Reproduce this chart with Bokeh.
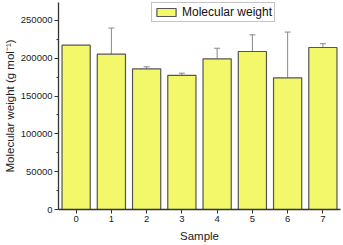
from bokeh.plotting import figure
from bokeh.models import ColumnDataSource, Whisker, Legend, LegendItem, FixedTicker, TeeHead, BasicTickFormatter
from bokeh.embed import file_html
from bokeh.resources import INLINE

samples = [0, 1, 2, 3, 4, 5, 6, 7]
mw = [217300, 205500, 186000, 177300, 199300, 209000, 174200, 214300]
err = [0, 34500, 2800, 3000, 14000, 22000, 60500, 5000]

upper = [m + e for m, e in zip(mw, err)]
lower = [m - e for m, e in zip(mw, err)]
src = ColumnDataSource(dict(x=samples, top=mw))
err_src = ColumnDataSource(dict(x=[s for s, e in zip(samples, err) if e > 0],
                                upper=[u for u, e in zip(upper, err) if e > 0],
                                lower=[l for l, e in zip(lower, err) if e > 0]))

p = figure(width=343, height=245, output_backend="svg", toolbar_location=None,
           x_range=(-0.5, 7.5), y_range=(0, 273800),
           min_border_left=58, min_border_right=3, min_border_top=2, min_border_bottom=36)
p.outline_line_color = None
p.grid.visible = False
p.background_fill_color = "white"

bars = p.vbar(x="x", top="top", width=0.8, bottom=0, source=src,
              fill_color="#F2F86A", line_color="#555555", line_width=1.2)

w = Whisker(base="x", upper="upper", lower="lower", source=err_src,
            line_color="#888888", line_width=1,
            upper_head=TeeHead(size=6, line_color="#888888", line_width=1),
            lower_head=TeeHead(size=6, line_color="#888888", line_width=1))
p.add_layout(w)

font = "Liberation Sans"
p.xaxis.ticker = FixedTicker(ticks=samples)
p.yaxis.ticker = FixedTicker(ticks=[0, 50000, 100000, 150000, 200000, 250000],
                             minor_ticks=[25000, 75000, 125000, 175000, 225000])
p.xaxis.axis_label = "Sample"
p.yaxis.axis_label = "Molecular weight (g mol\u207b\u00b9)"
for ax in (p.xaxis, p.yaxis):
    ax.axis_label_text_font = font
    ax.axis_label_text_font_style = "normal"
    ax.axis_label_text_font_size = "11.5px"
    ax.major_label_text_font = font
    ax.major_label_text_font_size = "9.5px"
    ax.major_label_text_color = "#222222"
    ax.axis_label_text_color = "#222222"
    ax.axis_line_color = "#333333"
    ax.axis_line_width = 1.3
    ax.major_tick_line_color = "#333333"
    ax.minor_tick_line_color = "#333333"
    ax.major_tick_out = 4
    ax.major_tick_in = 0
    ax.minor_tick_out = 2
    ax.minor_tick_in = 0
    ax.major_label_standoff = 2
p.xaxis.axis_label_standoff = 5
p.yaxis.axis_label_standoff = 2
p.xaxis.minor_tick_line_color = None
p.yaxis.major_label_orientation = "horizontal"
p.yaxis.formatter = BasicTickFormatter(use_scientific=False)

legend = Legend(items=[LegendItem(label="Molecular weight", renderers=[bars])],
                location=(93, 187), orientation="vertical",
                label_text_font=font, label_text_font_size="12px",
                label_text_color="#111111",
                glyph_width=24, glyph_height=10, label_standoff=4,
                padding=2, margin=0, spacing=0,
                border_line_color="#888888", border_line_width=1,
                label_height=11, background_fill_alpha=1)
p.add_layout(legend)

open("out.html", "w").write(file_html(p, INLINE))
